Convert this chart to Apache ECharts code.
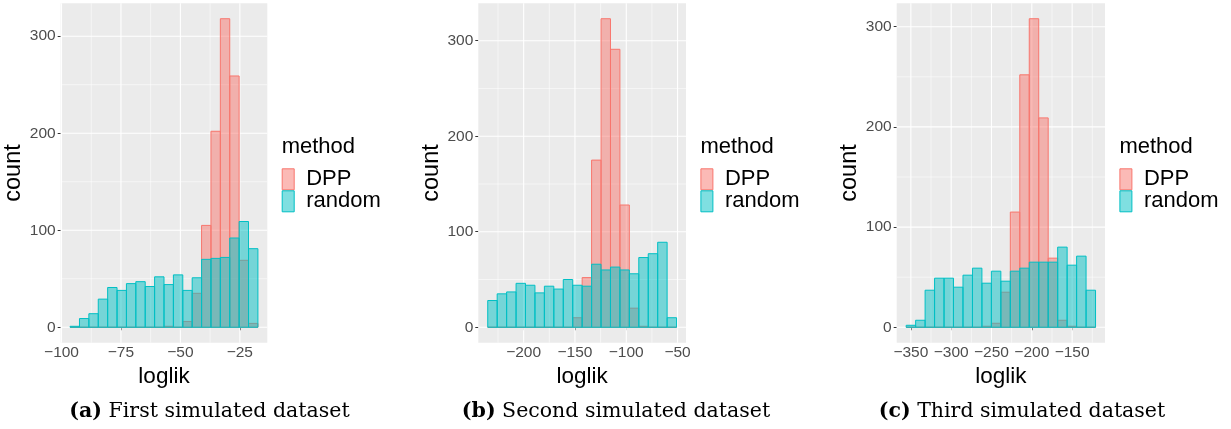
<!DOCTYPE html>
<html>
  <head>
    <meta charset="UTF-8" />
    <title></title>
    <style type="text/css">
      html,
      body {
        width: 100%;
        height: 100%;
        margin: 0;
        padding: 0;
        overflow: hidden;
        background: #fff;
      }
      #chart {
        width: 1231px;
        height: 429px;
      }
    </style>
  </head>
  <body>
    <div id="chart"></div>
    <script src="https://cdn.jsdelivr.net/npm/echarts@6/dist/echarts.min.js"></script>
    <script type="text/javascript">
      // histogram bins per panel: left edge of first bin and bin width
      const binStart = [-96.4, -235, -355.8];
      const binWidth = [3.95, 9.2, 11.74];

      // counts per bin (20 bins each)
      const dpp1 = [0, 0, 0, 0, 0, 0, 0, 0, 0, 0, 1, 0, 6, 35, 105, 202, 318, 259, 69, 4];
      const random1 = [1, 9, 14, 29, 41, 38, 45, 47, 42, 52, 44, 54, 38, 51, 70, 71, 72, 92, 109, 81];
      const dpp2 = [0, 0, 0, 0, 0, 0, 0, 0, 0, 10, 52, 175, 323, 291, 128, 20, 1, 0, 0, 0];
      const random2 = [28, 35, 37, 46, 44, 36, 43, 40, 50, 44, 43, 66, 60, 63, 60, 56, 73, 77, 89, 10];
      const dpp3 = [0, 0, 0, 0, 0, 0, 0, 0, 1, 4, 35, 115, 252, 308, 209, 69, 7, 1, 0, 0];
      const random3 = [2, 7, 37, 49, 49, 40, 52, 59, 44, 56, 46, 56, 59, 65, 65, 65, 80, 62, 71, 37];

      // axis breaks
      const xTicks1 = [-100, -75, -50, -25];
      const xMinor1 = [-87.5, -62.5, -37.5];
      const xTicks2 = [-200, -150, -100, -50];
      const xMinor2 = [-225, -175, -125, -75];
      const xTicks3 = [-350, -300, -250, -200, -150];
      const xMinor3 = [-325, -275, -225, -175, -125];
      const yTicks = [0, 100, 200, 300];
      const yMinor = [50, 150, 250];

      const captionTags = ["(a)", "(b)", "(c)"];
      const captionTexts = ["First simulated dataset", "Second simulated dataset", "Third simulated dataset"];

      const panels = [
        { dpp: dpp1, random: random1, xTicks: xTicks1, xMinor: xMinor1 },
        { dpp: dpp2, random: random2, xTicks: xTicks2, xMinor: xMinor2 },
        { dpp: dpp3, random: random3, xTicks: xTicks3, xMinor: xMinor3 },
      ];

      // layout
      const gridLeft = [60.7, 478.3, 896.7];
      const gridWidth = [206.6, 207.7, 208.3];
      const gridTop = 3.3;
      const gridHeight = 339.4;
      const captionX = [209.5, 616, 1022];

      const FONT = "Liberation Sans, Arial, Helvetica, sans-serif";
      const DPP_FILL = "rgba(248,118,109,0.5)";
      const DPP_LINE = "#F8766D";
      const RND_FILL = "rgba(0,191,196,0.5)";
      const RND_LINE = "#00BFC4";

      const minus = (v) => String(v).replace("-", "\u2212");

      const chart = echarts.init(document.getElementById("chart"));

      const grids = [];
      const xAxes = [];
      const yAxes = [];
      const series = [];
      const legends = [];
      const graphics = [];

      panels.forEach((p, i) => {
        const start = binStart[i];
        const w = binWidth[i];
        const n = p.dpp.length;
        const maxCount = Math.max(...p.dpp, ...p.random);

        grids.push({
          left: gridLeft[i],
          top: gridTop,
          width: gridWidth[i],
          height: gridHeight,
          show: true,
          backgroundColor: "#EBEBEB",
          borderWidth: 0,
        });

        xAxes.push({
          type: "value",
          gridIndex: i,
          min: start - w,
          max: start + (n + 1) * w,
          name: "loglik",
          nameLocation: "middle",
          nameGap: 9,
          nameTextStyle: { fontSize: 22.5, color: "#000", fontFamily: FONT },
          axisLine: { show: false },
          splitLine: { show: false },
          axisTick: {
            show: true,
            length: 3,
            customValues: p.xTicks,
            lineStyle: { color: "#333333", width: 1 },
          },
          axisLabel: {
            customValues: p.xTicks,
            margin: 2,
            fontSize: 15.5,
            color: "#4D4D4D",
            fontFamily: FONT,
            formatter: minus,
          },
        });

        yAxes.push({
          type: "value",
          gridIndex: i,
          min: -0.05 * maxCount,
          max: 1.05 * maxCount,
          name: "count",
          nameLocation: "middle",
          nameGap: 30,
          nameTextStyle: { fontSize: 23.5, color: "#000", fontFamily: FONT },
          axisLine: { show: false },
          splitLine: { show: false },
          axisTick: {
            show: true,
            length: 3,
            customValues: yTicks,
            lineStyle: { color: "#333333", width: 1 },
          },
          axisLabel: {
            customValues: yTicks,
            margin: 5,
            fontSize: 15.5,
            color: "#4D4D4D",
            fontFamily: FONT,
          },
        });

        // panel grid lines (ggplot style major + minor)
        const lines = [];
        p.xTicks.forEach((v) => lines.push([0, v, 1]));
        p.xMinor.forEach((v) => lines.push([0, v, 0]));
        yTicks.forEach((v) => lines.push([1, v, 1]));
        yMinor.forEach((v) => lines.push([1, v, 0]));
        series.push({
          type: "custom",
          xAxisIndex: i,
          yAxisIndex: i,
          silent: true,
          z: 1,
          data: lines,
          renderItem: (params, api) => {
            const cs = params.coordSys;
            const v = api.value(1);
            const lw = api.value(2) ? 1.1 : 0.55;
            let shape;
            if (api.value(0) === 0) {
              const x = api.coord([v, 0])[0];
              shape = { x1: x, y1: cs.y, x2: x, y2: cs.y + cs.height };
            } else {
              const y = api.coord([start, v])[1];
              shape = { x1: cs.x, y1: y, x2: cs.x + cs.width, y2: y };
            }
            return {
              type: "line",
              shape: shape,
              style: { stroke: "#FFFFFF", lineWidth: lw },
            };
          },
        });

        const histSeries = (name, counts, fill, stroke, z) => ({
          name: name,
          type: "custom",
          xAxisIndex: i,
          yAxisIndex: i,
          z: z,
          itemStyle: { color: fill, borderColor: stroke, borderWidth: 1 },
          encode: { x: [0, 1], y: 2 },
          data: counts.map((c, j) => [start + j * w, start + (j + 1) * w, c]),
          renderItem: (params, api) => {
            const p0 = api.coord([api.value(0), api.value(2)]);
            const p1 = api.coord([api.value(1), 0]);
            return {
              type: "rect",
              shape: { x: p0[0], y: p0[1], width: p1[0] - p0[0], height: p1[1] - p0[1] },
              style: { fill: fill, stroke: stroke, lineWidth: 1 },
            };
          },
        });
        series.push(histSeries("DPP", p.dpp, DPP_FILL, DPP_LINE, 2));
        series.push(histSeries("random", p.random, RND_FILL, RND_LINE, 3));

        const legX = gridLeft[i] + gridWidth[i] + 14.4;
        legends.push({
          data: ["DPP", "random"],
          orient: "vertical",
          left: legX,
          top: 168.3,
          padding: 0,
          itemGap: 0,
          itemWidth: 12,
          itemHeight: 21,
          icon: "rect",
          selectedMode: false,
          itemStyle: { borderWidth: 1 },
          textStyle: {
            fontSize: 22,
            color: "#000",
            fontFamily: FONT,
            lineHeight: 21,
            padding: [0, 0, 0, 7],
          },
        });

        graphics.push({
          type: "text",
          left: legX,
          top: 136,
          style: { text: "method", fontSize: 22, fontFamily: FONT, fill: "#000" },
        });

        graphics.push({
          type: "text",
          x: captionX[i],
          y: 412,
          style: {
            text: "{b|" + captionTags[i] + "} " + captionTexts[i],
            fontSize: 20.5,
            fontFamily: "DejaVu Serif",
            fill: "#000",
            align: "center",
            verticalAlign: "middle",
            rich: {
              b: { fontWeight: "bold", fontSize: 20.5, fontFamily: "DejaVu Serif" },
            },
          },
        });
      });

      chart.setOption({
        backgroundColor: "#FFFFFF",
        animation: false,
        grid: grids,
        xAxis: xAxes,
        yAxis: yAxes,
        legend: legends,
        series: series,
        graphic: graphics,
      });
    </script>
  </body>
</html>
